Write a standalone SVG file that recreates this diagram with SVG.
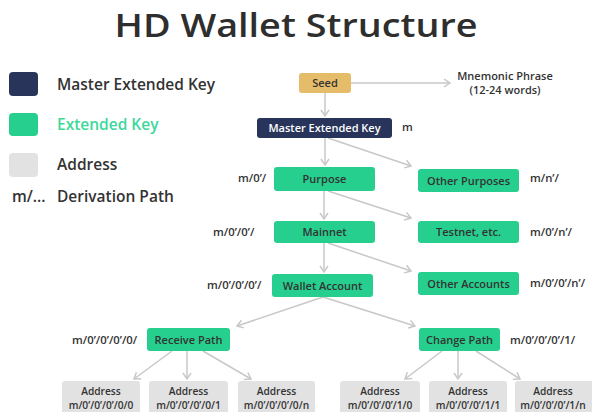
<svg xmlns="http://www.w3.org/2000/svg" width="592" height="412" viewBox="0 0 592 412">
<defs>
<marker id="arr" markerWidth="10" markerHeight="10" refX="7" refY="5" orient="auto" markerUnits="userSpaceOnUse">
<path d="M1,1 L7,5 L1,9" fill="none" stroke="#C8C8C8" stroke-width="1.5"/>
</marker>
<style>
.t{font-family:"Open Sans","Noto Sans",sans-serif;font-weight:600;fill:#333333}
.title{font-size:32px;text-anchor:middle;fill:#2e2e2e}
.leg{font-size:15.5px}
.n{font-size:11px;text-anchor:middle}
.nw{fill:#ffffff}
.p{font-size:11.3px}
.a{font-size:10.2px;text-anchor:middle}
.green{fill:#26CF8D}
.navy{fill:#28345A}
.gray{fill:#E2E2E2}
.seed{fill:#E4BC6A}
.c line{stroke:#C8C8C8;stroke-width:1.5;marker-end:url(#arr)}
</style>
</defs>
<rect width="592" height="412" fill="#ffffff"/>
<text class="t title" x="296" y="37" textLength="363" lengthAdjust="spacingAndGlyphs">HD Wallet Structure</text>
<g id="legend">
<rect class="navy" x="9" y="72" width="29" height="24" rx="4"/>
<rect class="green" x="9" y="113" width="29" height="23" rx="4"/>
<rect class="gray" x="9" y="153" width="29" height="24" rx="4"/>
<text class="t leg" x="57" y="90">Master Extended Key</text>
<text class="t leg" x="57" y="130" style="fill:#3DD89B">Extended Key</text>
<text class="t leg" x="57" y="170">Address</text>
<text class="t leg" x="12" y="202">m/...</text>
<text class="t leg" x="57" y="202">Derivation Path</text>
</g>
<g class="c" id="connectors">
<line x1="351" y1="83" x2="450" y2="83"/>
<line x1="325" y1="93" x2="325" y2="116"/>
<line x1="325" y1="138" x2="325" y2="165"/>
<line x1="328" y1="138" x2="411" y2="166"/>
<line x1="324" y1="191" x2="324" y2="219"/>
<line x1="328" y1="191" x2="411" y2="218"/>
<line x1="324" y1="243" x2="324" y2="272"/>
<line x1="328" y1="243" x2="411" y2="271"/>
<line x1="323" y1="297" x2="237" y2="326"/>
<line x1="323" y1="297" x2="415" y2="326"/>
<line x1="172" y1="351" x2="134" y2="379"/>
<line x1="187" y1="351" x2="187" y2="379"/>
<line x1="203" y1="351" x2="251" y2="379"/>
<line x1="442" y1="351" x2="405" y2="379"/>
<line x1="458" y1="351" x2="458" y2="379"/>
<line x1="476" y1="351" x2="520" y2="379"/>
</g>
<g id="seed">
<rect class="seed" x="299" y="73" width="52" height="20" rx="3"/>
<text class="t n" x="325" y="87">Seed</text>
</g>
<g id="mnemonic">
<text class="t n" x="505" y="80">Mnemonic Phrase</text>
<text class="t n" x="505" y="94">(12-24 words)</text>
</g>
<g id="master">
<rect class="navy" x="257" y="118" width="135" height="20" rx="3"/>
<text class="t n nw" x="324.5" y="132">Master Extended Key</text>
<text class="t p" x="402" y="131">m</text>
</g>
<g id="purpose">
<rect class="green" x="274" y="167" width="101" height="24" rx="3"/>
<text class="t n" x="324.5" y="183">Purpose</text>
<text class="t p" x="238" y="182">m/0’/</text>
</g>
<g id="otherPurposes">
<rect class="green" x="418" y="169" width="101" height="23" rx="3"/>
<text class="t n" x="468.5" y="184.5">Other Purposes</text>
<text class="t p" x="530" y="182">m/n’/</text>
</g>
<g id="mainnet">
<rect class="green" x="274" y="221" width="101" height="22" rx="3"/>
<text class="t n" x="324.5" y="236">Mainnet</text>
<text class="t p" x="213" y="236">m/0’/0’/</text>
</g>
<g id="testnet">
<rect class="green" x="418" y="221" width="101" height="22" rx="3"/>
<text class="t n" x="468.5" y="236">Testnet, etc.</text>
<text class="t p" x="530" y="236">m/0’/n’/</text>
</g>
<g id="wallet">
<rect class="green" x="272" y="274" width="101" height="23" rx="3"/>
<text class="t n" x="322.5" y="289.5">Wallet Account</text>
<text class="t p" x="207" y="289">m/0’/0’/0’/</text>
</g>
<g id="otherAccounts">
<rect class="green" x="418" y="272" width="101" height="23" rx="3"/>
<text class="t n" x="468.5" y="287.5">Other Accounts</text>
<text class="t p" x="530" y="287">m/0’/0’/n’/</text>
</g>
<g id="receive">
<rect class="green" x="147" y="328" width="83" height="23" rx="3"/>
<text class="t n" x="188.5" y="343.5">Receive Path</text>
<text class="t p" x="72" y="344">m/0’/0’/0’/0/</text>
</g>
<g id="change">
<rect class="green" x="419" y="328" width="81" height="23" rx="3"/>
<text class="t n" x="459.5" y="343.5">Change Path</text>
<text class="t p" x="510" y="344">m/0’/0’/0’/1/</text>
</g>
<g id="addr1">
<rect class="gray" x="62" y="381" width="78" height="40" rx="3"/>
<text class="t a" x="101" y="395">Address</text>
<text class="t a" x="101" y="409">m/0’/0’/0’/0/0</text>
</g>
<g id="addr2">
<rect class="gray" x="149" y="381" width="79" height="40" rx="3"/>
<text class="t a" x="188.5" y="395">Address</text>
<text class="t a" x="188.5" y="409">m/0’/0’/0’/0/1</text>
</g>
<g id="addr3">
<rect class="gray" x="238" y="381" width="77" height="40" rx="3"/>
<text class="t a" x="276.5" y="395">Address</text>
<text class="t a" x="276.5" y="409">m/0’/0’/0’/0/n</text>
</g>
<g id="addr4">
<rect class="gray" x="340" y="381" width="80" height="40" rx="3"/>
<text class="t a" x="380" y="395">Address</text>
<text class="t a" x="380" y="409">m/0’/0’/0’/1/0</text>
</g>
<g id="addr5">
<rect class="gray" x="429" y="381" width="78" height="40" rx="3"/>
<text class="t a" x="468" y="395">Address</text>
<text class="t a" x="468" y="409">m/0’/0’/0’/1/1</text>
</g>
<g id="addr6">
<rect class="gray" x="515" y="381" width="85" height="40" rx="3"/>
<text class="t a" x="553" y="395">Address</text>
<text class="t a" x="553" y="409">m/0’/0’/0’/1/n</text>
</g>
</svg>
